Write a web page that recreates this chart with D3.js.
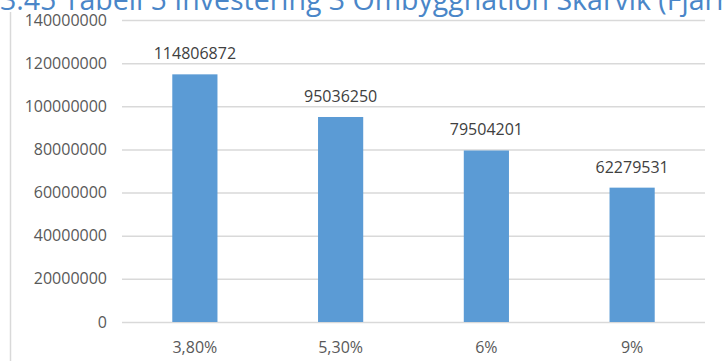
<!DOCTYPE html>
<html>
<head>
<meta charset="utf-8">
<script src="https://cdn.jsdelivr.net/npm/d3@7"></script>
<style>
  html, body { margin: 0; padding: 0; background: #fff; overflow: hidden; }
  svg { display: block; }
</style>
</head>
<body>
<svg id="chart" width="722" height="361"></svg>
<script>
// Investment by discount rate
const categories = ["3,80%", "5,30%", "6%", "9%"];
const values = [114806872, 95036250, 79504201, 62279531];
const yTicks = [0, 20000000, 40000000, 60000000, 80000000, 100000000, 120000000, 140000000];
const titleText = "3.45 Tabell 5 Investering 3 Ombyggnation Skarvik (Fjärrvärme)";

const svg = d3.select("#chart");
const W = 722, H = 361;
const plot = { left: 122, right: 705, top: 20, bottom: 322 };
const font = "'Open Sans', 'Liberation Sans', sans-serif";

// chart frame edge
svg.append("line")
  .attr("x1", 10.5).attr("x2", 10.5)
  .attr("y1", 12).attr("y2", H)
  .attr("stroke", "#d9d9d9").attr("stroke-width", 1.5);

// heading text (runs off the top edge)
svg.append("text")
  .attr("x", 0).attr("y", 10)
  .attr("font-family", font)
  .attr("font-size", 28.5)
  .attr("fill", "#4a86c8")
  .text(titleText);

const x = d3.scaleBand()
  .domain(categories)
  .range([plot.left, plot.right])
  .paddingInner(0).paddingOuter(0);

const y = d3.scaleLinear()
  .domain([0, 140000000])
  .range([plot.bottom, plot.top]);

const barW = x.bandwidth() * 0.31;

// gridlines
svg.append("g")
  .attr("transform", `translate(${plot.left},0)`)
  .call(d3.axisLeft(y).tickValues(yTicks).tickSize(-(plot.right - plot.left)).tickFormat(""))
  .call(g => g.select(".domain").remove())
  .call(g => g.selectAll(".tick line").attr("stroke", "#d9d9d9").attr("stroke-width", 1.5));

// y tick labels
svg.append("g")
  .attr("transform", `translate(107,0)`)
  .call(d3.axisLeft(y).tickValues(yTicks).tickSize(0).tickPadding(0).tickFormat(d3.format("d")))
  .call(g => g.select(".domain").remove())
  .call(g => g.selectAll("text")
    .attr("font-family", font).attr("font-size", 16).attr("fill", "#595959"));

// bars
svg.append("g").selectAll("rect")
  .data(values)
  .join("rect")
  .attr("x", (d, i) => x(categories[i]) + (x.bandwidth() - barW) / 2)
  .attr("width", barW)
  .attr("y", d => y(d))
  .attr("height", d => y(0) - y(d))
  .attr("fill", "#5b9bd5");

// value labels
svg.append("g").selectAll("text")
  .data(values)
  .join("text")
  .attr("x", (d, i) => x(categories[i]) + x.bandwidth() / 2)
  .attr("y", d => y(d) - 15)
  .attr("text-anchor", "middle")
  .attr("font-family", font).attr("font-size", 16).attr("fill", "#404040")
  .text(d => d);

// category labels
svg.append("g")
  .attr("transform", `translate(0,${plot.bottom})`)
  .call(d3.axisBottom(x).tickSize(0).tickPadding(20))
  .call(g => g.select(".domain").remove())
  .call(g => g.selectAll("text")
    .attr("font-family", font).attr("font-size", 16).attr("fill", "#595959"));
</script>
</body>
</html>
